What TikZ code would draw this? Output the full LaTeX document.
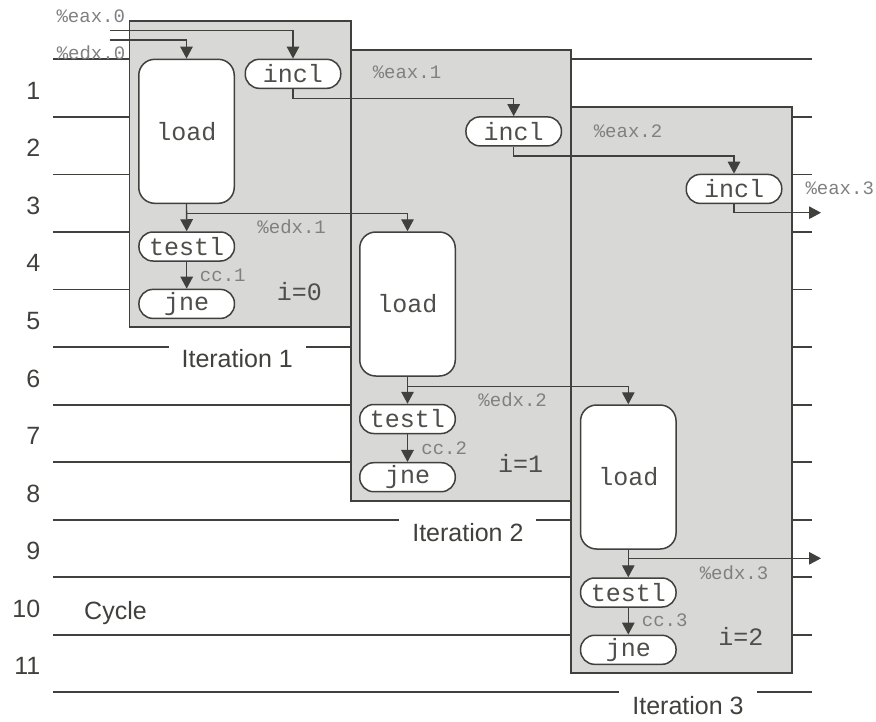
\documentclass[tikz,border=0pt]{standalone}
\usepackage{fontspec}
\setmainfont{Liberation Sans}
\newfontfamily\monof{Liberation Mono}
\usetikzlibrary{arrows.meta}
\definecolor{ink}{RGB}{64,64,60}
\definecolor{monoink}{RGB}{78,78,74}
\definecolor{boxfill}{RGB}{216,216,214}
\definecolor{lab}{RGB}{128,128,128}
\begin{document}
\begin{tikzpicture}[x=1pt,y=-1pt,
  cyc/.style={draw=ink,line width=1.8pt},
  iterbox/.style={draw=ink,fill=boxfill,line width=1.8pt},
  op/.style={draw=ink,fill=white,line width=1.5pt,font=\monof\fontsize{25}{25}\selectfont,text=monoink,inner sep=0pt,minimum height=29pt,minimum width=95.5pt,rounded corners=14pt},
  loadop/.style={op,minimum height=144pt,rounded corners=16pt},
  arr/.style={draw=ink,line width=1.4pt,-{Triangle[length=12pt,width=12.5pt]}},
  small/.style={font=\monof\fontsize{19}{19}\selectfont,text=lab,inner sep=0pt},
  ival/.style={font=\monof\fontsize{25}{25}\selectfont,text=monoink,inner sep=0pt},
  num/.style={font=\fontsize{25}{25}\selectfont,text=ink,inner sep=0pt,anchor=base east},
  iter/.style={font=\fontsize{25}{25}\selectfont,text=ink,fill=white,inner xsep=13pt,inner ysep=8pt}
]
\useasboundingbox (0,0) rectangle (876,721);

% cycle lines
\foreach \k in {0,...,11}{
  \draw[cyc] (53,{59.3+57.55*\k}) -- (811.5,{59.3+57.55*\k});
}
% cycle numbers
\foreach \k in {1,...,11}{
  \node[num] (n\k) at (40.5,{59.3+57.55*(\k-0.5)+11.2}) {\k};
}
\node[font=\fontsize{25}{25}\selectfont,text=ink,inner sep=0pt,anchor=base west] (cyclelab) at (84,619.3) {Cycle};

% iteration labels
\node[iter] (it1) at (237.2,359) {Iteration 1};
\node[iter] (it2) at (467.9,532.8) {Iteration 2};
\node[iter] (it3) at (688,705.3) {Iteration 3};

% iteration boxes
\draw[iterbox] (129.5,20.7) rectangle (350.6,327.3);
\draw[iterbox] (350.6,50) rectangle (571,500.7);
\draw[iterbox] (571,106.7) rectangle (792.3,673.3);

% operation nodes
\node[loadop] (L1) at (186.5,131.3) {load};
\node[loadop] (L2) at (407.5,304) {load};
\node[loadop] (L3) at (628.3,477) {load};
\node[op] (I1) at (293,73.8) {incl};
\node[op] (I2) at (513.7,131.4) {incl};
\node[op] (I3) at (734,188.9) {incl};
\node[op] (T1) at (186.7,246.5) {testl};
\node[op] (T2) at (407.5,419) {testl};
\node[op] (T3) at (628.3,592.5) {testl};
\node[op] (J1) at (186.7,303.9) {jne};
\node[op] (J2) at (407.5,477.2) {jne};
\node[op] (J3) at (628.3,649.8) {jne};

% free ends
\coordinate (e0) at (110,30.7);
\coordinate (d0) at (110,40);
\coordinate (o1) at (821,212.7);
\coordinate (o2) at (821,558.3);

% connectors
\draw[arr] (e0) -| (I1.north);
\draw[arr] (d0) -| (L1.north);
\draw[arr] (I1.south) -- ++(0,9.3) -| (I2.north);
\draw[arr] (I2.south) -- ++(0,9.3) -| (I3.north);
\draw[arr] (I3.south) |- (o1);
\draw[arr] (L1.south) -- (T1.north);
\draw[arr] (L1.south) -- ++(0,9.3) -| (L2.north);
\draw[arr] (L2.south) -- (T2.north);
\draw[arr] (L2.south) -- ++(0,9.7) -| (L3.north);
\draw[arr] (L3.south) -- (T3.north);
\draw[arr] (L3.south) |- (o2);
\draw[arr] (T1.south) -- (J1.north);
\draw[arr] (T2.south) -- (J2.north);
\draw[arr] (T3.south) -- (J3.north);

% value labels
\node[small] (ea0) at (90.8,16) {\%eax.0};
\node[small] (ed0) at (91,52.7) {\%edx.0};
\node[small] (ea1) at (407,72.7) {\%eax.1};
\node[small] (ea2) at (628,131) {\%eax.2};
\node[small] (ea3) at (839.7,188.3) {\%eax.3};
\node[small] (ed1) at (291.7,226.7) {\%edx.1};
\node[small] (ed2) at (512.7,399.3) {\%edx.2};
\node[small] (ed3) at (734,572.7) {\%edx.3};
\node[small] (cc1) at (222.8,275) {cc.1};
\node[small] (cc2) at (444.2,448) {cc.2};
\node[small] (cc3) at (664.7,620) {cc.3};
\node[ival] (i0) at (299.3,291.3) {i=0};
\node[ival] (i1) at (520.5,463.3) {i=1};
\node[ival] (i2) at (740.8,636.7) {i=2};
\end{tikzpicture}
\end{document}
